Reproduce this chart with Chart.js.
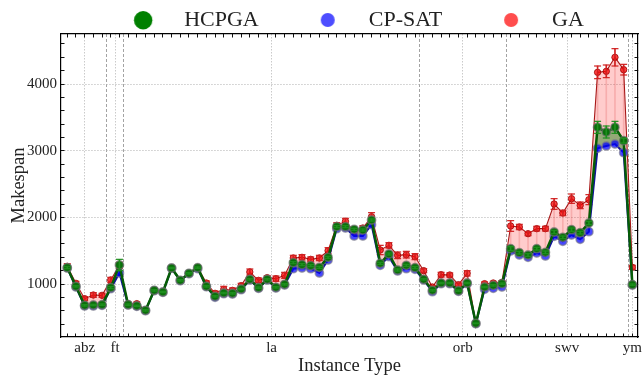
<!DOCTYPE html>
<html><head><meta charset="utf-8">
<script src="https://cdn.jsdelivr.net/npm/chart.js@4"></script>
<style>html,body{margin:0;padding:0;background:#fff}#wrap{width:644px;height:377px}</style>
</head><body><div id="wrap"><canvas id="c" width="644" height="377"></canvas></div>
<script>
// ---- data ----
const groupNames = ['abz','ft','la','orb','swv','ym'];
const groupSizes = [5, 2, 34, 10, 14, 1];
const yTickValues = [1000, 2000, 3000, 4000];

const cpsat = [1240,955,670,670,680,930,1165,685,665,600,
  900,875,1235,1050,1155,1230,960,800,855,850,
  915,1060,935,1060,940,985,1230,1240,1230,1165,
  1360,1830,1840,1720,1720,1890,1280,1410,1195,1230,
  1220,1060,885,1005,1005,890,1005,405,920,935,
  955,1495,1435,1400,1465,1420,1715,1640,1735,1670,
  1785,3035,3070,3100,2970,985];
const hcpga = [1245,965,680,685,690,945,1285,690,672,605,
  905,880,1240,1055,1160,1245,965,815,865,860,
  925,1070,945,1070,950,995,1320,1290,1275,1250,
  1400,1860,1860,1820,1810,1960,1310,1450,1210,1280,
  1245,1070,905,1015,1015,900,1015,410,955,980,
  1005,1530,1470,1435,1530,1475,1780,1700,1815,1770,
  1915,3350,3280,3350,3150,990];
const hcpgaErr = [15,10,10,10,10,15,85,10,10,10,
  10,10,10,10,10,10,10,10,10,10,
  10,10,10,10,10,10,15,15,15,15,
  15,15,15,15,15,15,15,15,15,15,
  15,10,10,10,10,10,10,5,10,10,
  10,30,20,20,20,20,25,20,25,20,
  25,90,90,90,35,10];
const ga = [1265,1010,780,835,830,1060,1280,705,705,610,
  905,875,1245,1055,1160,1250,1015,860,920,905,
  975,1180,1055,1095,1080,1130,1390,1400,1370,1390,
  1500,1880,1940,1790,1840,2010,1510,1580,1430,1440,
  1410,1200,955,1140,1135,990,1160,410,1005,1015,
  1025,1870,1855,1755,1830,1830,2200,2065,2280,2180,
  2265,4175,4190,4400,4215,1250];
const gaErr = [40,30,30,35,30,40,45,20,25,15,
  15,15,15,15,15,20,30,35,45,35,
  35,45,35,30,40,45,40,40,35,40,
  45,40,45,40,35,60,70,40,50,50,
  45,30,20,35,30,25,40,10,25,25,
  25,80,40,30,35,35,80,40,70,50,
  75,95,95,130,80,30];

// ---- derived helpers ----
const groupStarts = groupSizes.map((n, k) => groupSizes.slice(0, k).reduce((a, b) => a + b, 0));
const groupCenters = groupStarts.map((s, k) => s + (groupSizes[k] - 1) / 2);
const groupBounds = groupStarts.slice(1).map(s => s - 0.5);
const nPts = cpsat.length;
const pts = arr => arr.map((v, i) => ({x: i, y: v}));
const span = (lo, hi) => lo.map((v, i) => ({x: i, y: [v, hi[i]]}));
const add = (a, e, s) => a.map((v, i) => v + s * e[i]);

const FONT = "'Liberation Serif', 'Times New Roman', serif";
const TXT = '#222';

function legendImg(color, r, w, c) {
  const cv = document.createElement('canvas');
  cv.width = w; cv.height = 2 * r + 4;
  const g = cv.getContext('2d');
  g.fillStyle = color; g.beginPath(); g.arc(c, r + 2, r, 0, Math.PI * 2); g.fill();
  return cv;
}
const LB = 93, LC = 63, LP = 6;
const legendItems = [
  {text: 'HCPGA', img: legendImg('#008000', 9.2, LB, LC)},
  {text: 'CP-SAT', img: legendImg('#4d4dff', 7, LB, LC)},
  {text: 'GA', img: legendImg('#ff4d4d', 7, LB, LC)}
];

const legendFix = {
  id: 'legendFix',
  beforeLayout(chart) {
    const lg = chart.legend;
    if (lg && !lg._patched) {
      const orig = lg.fit;
      lg.fit = function () { orig.call(this); this.height = 31; if (this.lineWidths) this.lineWidths[0] -= 21; };
      lg._patched = true;
    }
  }
};

const minorAxis = (pos, ticksFn, extra) => Object.assign({
  type: 'linear', position: pos, display: true,
  ticks: {display: false},
  grid: {drawOnChartArea: false, drawTicks: true, tickLength: -3.5, tickColor: '#111', tickWidth: 1},
  border: {display: false},
  afterBuildTicks: s => { s.ticks = ticksFn().map(v => ({value: v})); },
  afterFit: s => { if (pos === 'left' || pos === 'right') s.width = 0; else s.height = 0; }
}, extra);

const XMIN = -0.72, XMAX = 65.65, YMIN = 205, YMAX = 4750;
const ints = () => Array.from({length: nPts}, (_, i) => i);
const yMinor = () => { const a = []; for (let v = 400; v <= 4600; v += 200) a.push(v); return a; };

new Chart(document.getElementById('c'), {
  type: 'line',
  data: {
    datasets: [
      {label: 'HCPGA', data: pts(hcpga), order: 1, borderColor: '#055d05', borderWidth: 2.5,
        pointRadius: 4.1, pointBackgroundColor: '#0a700a', pointBorderColor: 'rgba(110,110,110,0.65)', pointBorderWidth: 1.6,
        fill: 1, backgroundColor: 'rgba(0,120,0,0.42)', tension: 0},
      {label: 'CP-SAT', data: pts(cpsat), order: 2, borderColor: '#12129a', borderWidth: 2,
        pointRadius: 4.1, pointBackgroundColor: 'rgba(0,0,255,0.72)', pointBorderColor: 'rgba(120,120,140,0.65)', pointBorderWidth: 1.6,
        fill: false, tension: 0},
      {label: 'GA', data: pts(ga), order: 3, borderColor: '#a81818', borderWidth: 1.1,
        pointRadius: 3.2, pointBackgroundColor: 'rgba(255,0,0,0.75)', pointBorderColor: 'rgba(150,0,0,0.8)', pointBorderWidth: 1,
        fill: 1, backgroundColor: 'rgba(255,0,0,0.2)', tension: 0},
      {type: 'bar', label: 'gaErr', data: span(add(ga, gaErr, -1), add(ga, gaErr, 1)), order: 2.5,
        backgroundColor: '#d02020', barThickness: 1, grouped: false},
      {type: 'line', label: 'gaCapHi', data: pts(add(ga, gaErr, 1)), order: 2.5, showLine: false,
        pointStyle: 'line', pointRadius: 3.5, pointBorderColor: '#d02020', pointBorderWidth: 1.2},
      {type: 'line', label: 'gaCapLo', data: pts(add(ga, gaErr, -1)), order: 2.5, showLine: false,
        pointStyle: 'line', pointRadius: 3.5, pointBorderColor: '#d02020', pointBorderWidth: 1.2},
      {type: 'bar', label: 'hcErr', data: span(add(hcpga, hcpgaErr, -1), add(hcpga, hcpgaErr, 1)), order: 0.5,
        backgroundColor: '#1f8f1f', barThickness: 1, grouped: false},
      {type: 'line', label: 'hcCapHi', data: pts(add(hcpga, hcpgaErr, 1)), order: 0.5, showLine: false,
        pointStyle: 'line', pointRadius: 3.5, pointBorderColor: '#1f8f1f', pointBorderWidth: 1.2},
      {type: 'line', label: 'hcCapLo', data: pts(add(hcpga, hcpgaErr, -1)), order: 0.5, showLine: false,
        pointStyle: 'line', pointRadius: 3.5, pointBorderColor: '#1f8f1f', pointBorderWidth: 1.2},
      {type: 'bar', label: 'gaSpan', data: span(hcpga, ga), order: 10,
        backgroundColor: 'rgba(220,60,60,0.22)', barThickness: 1, grouped: false}
    ]
  },
  options: {
    responsive: false, animation: false, devicePixelRatio: 1,
    layout: {padding: {top: 3, right: 1, left: 0, bottom: 0}},
    plugins: {
      tooltip: {enabled: false},
      filler: {drawTime: 'beforeDatasetsDraw'},
      legend: {
        position: 'top', align: 'center',
        labels: {
          usePointStyle: true, pointStyleWidth: LB, padding: LP,
          color: TXT, font: {family: FONT, size: 22},
          generateLabels: () => legendItems.map((it, k) => ({
            text: it.text, pointStyle: it.img, fillStyle: 'transparent', strokeStyle: 'transparent',
            lineWidth: 0, hidden: false, datasetIndex: k, fontColor: TXT
          }))
        },
        onClick: () => {}
      }
    },
    scales: {
      x: {
        type: 'linear', position: 'bottom', min: XMIN, max: XMAX, offset: false, weight: 0,
        afterBuildTicks: s => { s.ticks = groupCenters.map(v => ({value: v})); },
        afterFit: s => { s.height = 40; },
        ticks: {autoSkip: false, maxRotation: 0, padding: 2, color: TXT, font: {family: FONT, size: 15},
          callback: (v, i) => groupNames[i]},
        grid: {color: 'rgba(180,180,180,0.7)', lineWidth: 1, drawTicks: false, offset: false},
        border: {display: true, color: '#000', width: 1.2, dash: [1.5, 1.5]},
        title: {display: true, text: 'Instance Type', color: TXT, font: {family: FONT, size: 18.5}, padding: {top: 0, bottom: 0}}
      },
      xb: minorAxis('bottom', () => groupBounds, {min: XMIN, max: XMAX, weight: -2,
        grid: {drawOnChartArea: true, drawTicks: false, color: 'rgba(140,140,140,0.8)', lineWidth: 1}, border: {display: false, dash: [3, 2]}}),
      xm: minorAxis('bottom', ints, {min: XMIN, max: XMAX, weight: -1}),
      xt: minorAxis('top', ints, {min: XMIN, max: XMAX, weight: -1, border: {display: true, color: '#000', width: 1.2}}),
      y: {
        type: 'linear', position: 'left', min: YMIN, max: YMAX, weight: 0,
        afterBuildTicks: s => { s.ticks = yTickValues.map(v => ({value: v})); },
        afterFit: s => { s.width = 61; },
        ticks: {padding: 4, color: TXT, font: {family: FONT, size: 15}, callback: v => String(v)},
        grid: {color: 'rgba(180,180,180,0.7)', lineWidth: 1, drawTicks: false},
        border: {display: true, color: '#000', width: 1.2, dash: [1.5, 1.5]},
        title: {display: true, text: 'Makespan', color: TXT, font: {family: FONT, size: 18.5}, padding: {top: 8, bottom: 0}}
      },
      yl: minorAxis('left', yMinor, {min: YMIN, max: YMAX, weight: -1}),
      yr: minorAxis('right', yMinor, {min: YMIN, max: YMAX, weight: -1, border: {display: true, color: '#000', width: 1.2}})
    }
  },
  plugins: [legendFix]
});
</script>
</body></html>
